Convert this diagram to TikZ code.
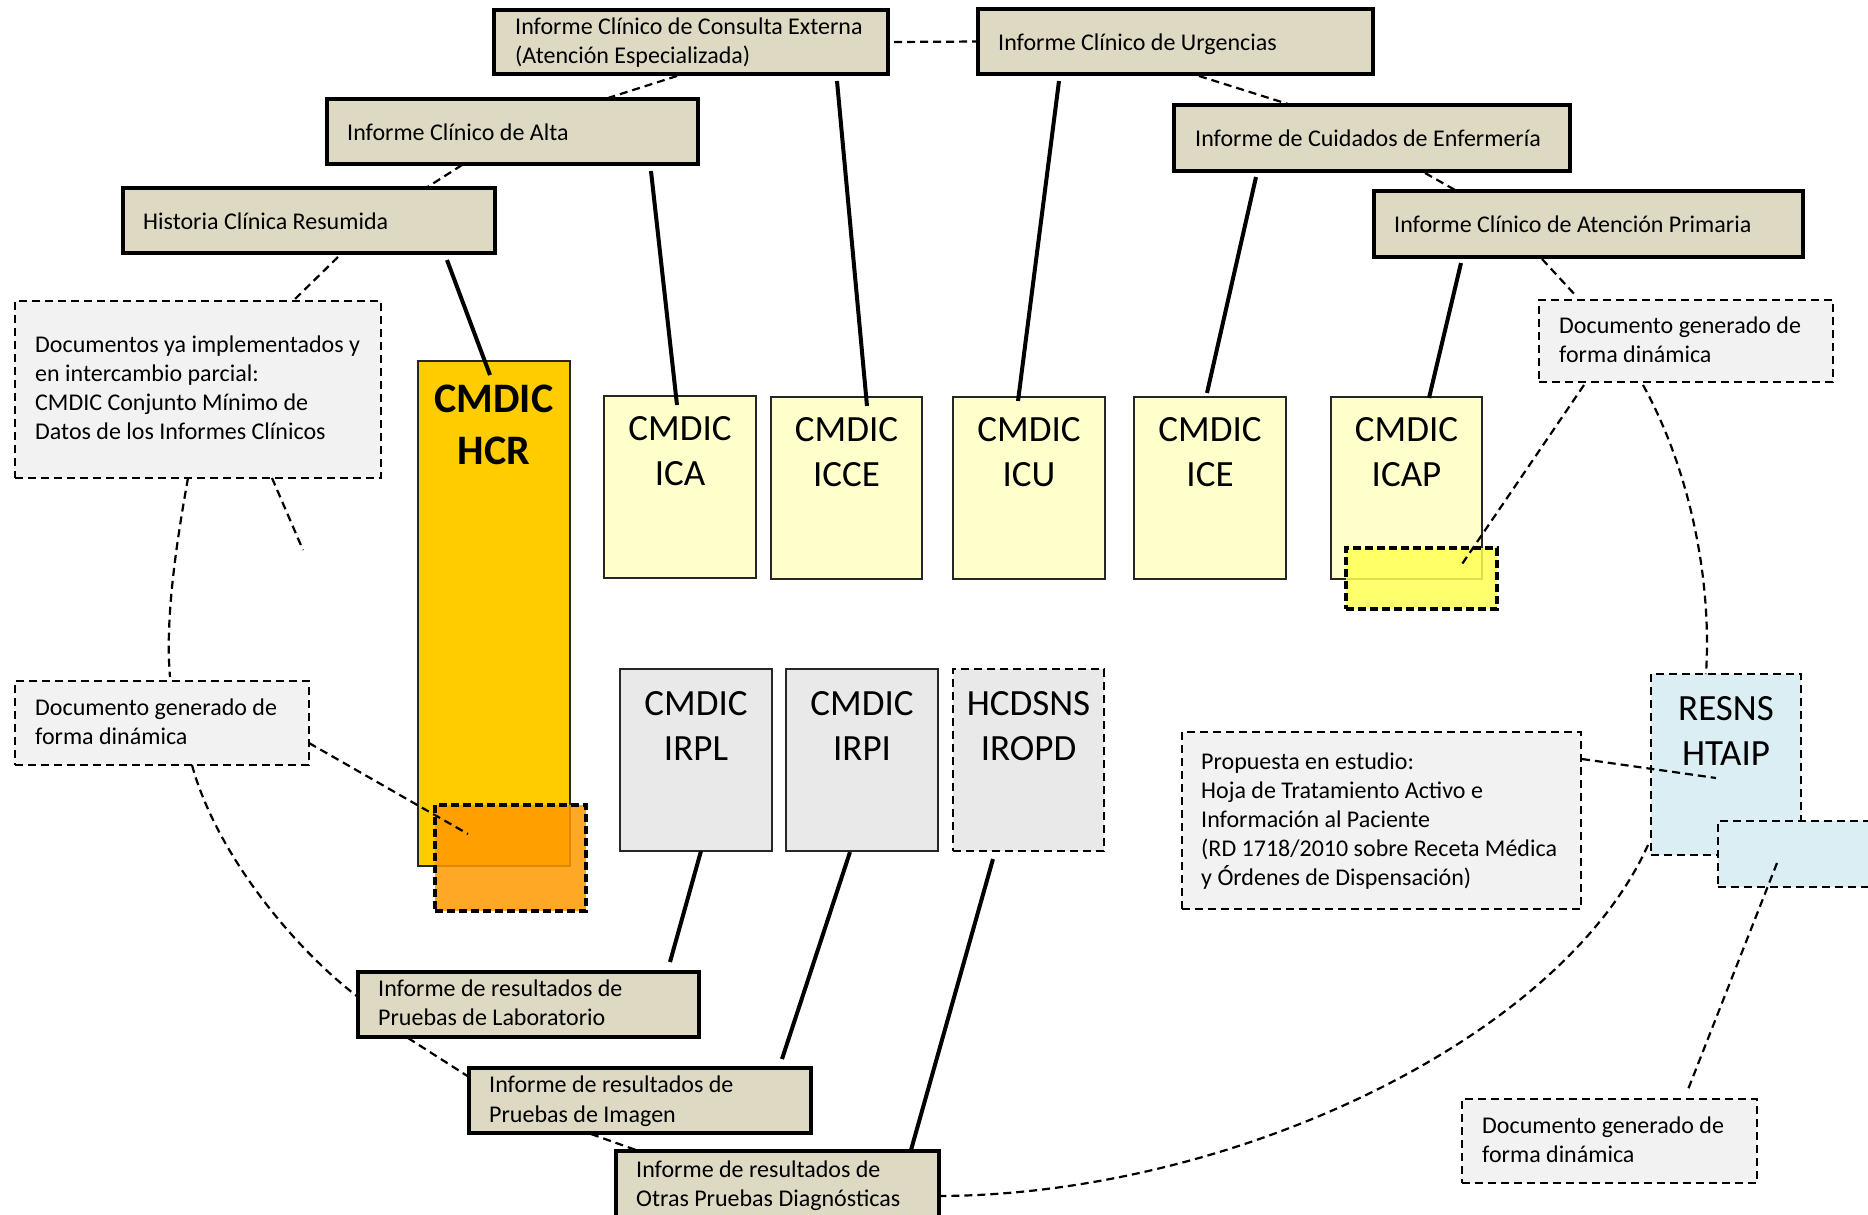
\documentclass[tikz,border=0pt]{standalone}
\usepackage{fontspec}
\setmainfont{Carlito}
\definecolor{tanc}{HTML}{DDD9C3}
\definecolor{hcrc}{HTML}{FFCC00}
\definecolor{lyc}{HTML}{FFFFCC}
\definecolor{grayc}{HTML}{E9E9E9}
\definecolor{infoc}{HTML}{F2F2F2}
\definecolor{bluec}{HTML}{DBEEF3}
\definecolor{orangec}{HTML}{FF9900}
\definecolor{yelc}{HTML}{FFFF55}
\newcommand\mkbox[6]{\node[#2, minimum width={(#5-#3)*1bp}, minimum height={(#6-#4)*1bp}] (#1) at ({(#3+#5)/2},{(#4+#6)/2}) {};}
\tikzset{
  boxbase/.style={rectangle, inner sep=0pt, outer sep=0pt},
  tanbox/.style={boxbase, draw=black, line width=4bp, fill=tanc},
  infobox/.style={boxbase, draw=black, line width=2.2bp, dash pattern=on 8bp off 5bp, fill=infoc},
  cmbox/.style={boxbase, draw=black!85, line width=2.4bp, fill=lyc},
  hcrbox/.style={boxbase, draw=black!85, line width=2.4bp, fill=hcrc},
  graybox/.style={boxbase, draw=black!85, line width=2.4bp, fill=grayc},
  graydash/.style={boxbase, draw=black, line width=2.2bp, dash pattern=on 8bp off 5bp, fill=grayc},
  bluebox/.style={boxbase, draw=black, line width=2.2bp, dash pattern=on 8bp off 5bp, fill=bluec},
  orbox/.style={boxbase, draw=black, line width=3.2bp, dash pattern=on 8bp off 4bp, fill=orangec, fill opacity=0.85},
  yelbox/.style={boxbase, draw=black, line width=3.2bp, dash pattern=on 8bp off 4bp, fill=yelc, fill opacity=0.85},
  stxt/.style={inner sep=0pt, align=left, font=\fontsize{24bp}{29bp}\selectfont,
    execute at begin node=\strut, execute at end node=\strut, yshift=-3bp},
  bigtxt/.style={inner sep=0pt, align=center, font=\fontsize{37bp}{45bp}\selectfont},
  boldtxt/.style={inner sep=0pt, align=center, font=\fontsize{42bp}{52bp}\selectfont\bfseries},
  solidlink/.style={line width=4bp, black},
  dashlink/.style={line width=2.2bp, black, dash pattern=on 8bp off 5bp},
}
\begin{document}
\begin{tikzpicture}[x=1bp,y=-1bp]
\useasboundingbox (0,0) rectangle (1868,1214);
% tan boxes
\mkbox{ce}{tanbox}{494}{10}{888}{74}
\mkbox{urg}{tanbox}{978}{9}{1373}{74}
\mkbox{alta}{tanbox}{327}{99}{698}{164}
\mkbox{enf}{tanbox}{1174}{105}{1570}{171}
\mkbox{hcrT}{tanbox}{123}{188}{495}{253}
\mkbox{ap}{tanbox}{1374}{191}{1803}{257}
\mkbox{lab}{tanbox}{358}{972}{699}{1037}
\mkbox{img}{tanbox}{469}{1068}{811}{1133}
\mkbox{otras}{tanbox}{616}{1151}{939}{1218}
% info boxes
\mkbox{docs}{infobox}{15}{301}{381}{478}
\mkbox{dynR}{infobox}{1539}{300}{1833}{382}
\mkbox{dynL}{infobox}{15}{681}{309}{765}
\mkbox{prop}{infobox}{1182}{732}{1581}{909}
\mkbox{dynB}{infobox}{1462}{1099}{1757}{1183}
% CMDIC boxes
\mkbox{hcr}{hcrbox}{418}{361}{570}{866}
\mkbox{ica}{cmbox}{604}{396}{756}{578}
\mkbox{icce}{cmbox}{771}{397}{922}{579}
\mkbox{icu}{cmbox}{953}{397}{1105}{579}
\mkbox{ice}{cmbox}{1134}{397}{1286}{579}
\mkbox{icap}{cmbox}{1331}{397}{1482}{579}
\mkbox{irpl}{graybox}{620}{669}{772}{851}
\mkbox{irpi}{graybox}{786}{669}{938}{851}
\mkbox{iropd}{graydash}{953}{669}{1104}{851}
\mkbox{resns}{bluebox}{1651}{674}{1801}{855}
\mkbox{orng}{orbox}{435}{805}{586}{911}
\mkbox{yel}{yelbox}{1346}{548}{1497}{609}
\mkbox{blue2}{bluebox}{1718}{821}{1885}{887}
% texts of tan boxes
\node[stxt, anchor=west] (ceL) at ([xshift=21bp]ce.west) {Informe Clínico de Consulta Externa\\(Atención Especializada)};
\node[stxt, anchor=west] (urgL) at ([xshift=20bp]urg.west) {Informe Clínico de Urgencias};
\node[stxt, anchor=west] (altaL) at ([xshift=20bp]alta.west) {Informe Clínico de Alta};
\node[stxt, anchor=west] (enfL) at ([xshift=21bp]enf.west) {Informe de Cuidados de Enfermería};
\node[stxt, anchor=west] (hcrTL) at ([xshift=20bp]hcrT.west) {Historia Clínica Resumida};
\node[stxt, anchor=west] (apL) at ([xshift=20bp]ap.west) {Informe Clínico de Atención Primaria};
\node[stxt, anchor=west] (labL) at ([xshift=20bp]lab.west) {Informe de resultados de\\Pruebas de Laboratorio};
\node[stxt, anchor=west] (imgL) at ([xshift=20bp]img.west) {Informe de resultados de\\Pruebas de Imagen};
\node[stxt, anchor=west] (otrasL) at ([xshift=20bp]otras.west) {Informe de resultados de\\Otras Pruebas Diagnósticas};
% texts of info boxes
\node[stxt, anchor=west] (docsL) at ([xshift=20bp]docs.west) {Documentos ya implementados y\\en intercambio parcial:\\CMDIC Conjunto Mínimo de\\Datos de los Informes Clínicos};
\node[stxt, anchor=west] (dynRL) at ([xshift=20bp]dynR.west) {Documento generado de\\forma dinámica};
\node[stxt, anchor=west] (dynLL) at ([xshift=20bp]dynL.west) {Documento generado de\\forma dinámica};
\node[stxt, anchor=west] (propL) at ([xshift=19bp]prop.west) {Propuesta en estudio:\\Hoja de Tratamiento Activo e\\Información al Paciente\\(RD 1718/2010 sobre Receta Médica\\y Órdenes de Dispensación)};
\node[stxt, anchor=west] (dynBL) at ([xshift=20bp]dynB.west) {Documento generado de\\forma dinámica};
% texts of CMDIC boxes
\node[boldtxt, anchor=north] (hcrL) at ([yshift=-24bp]hcr.north) {CMDIC\\HCR};
\node[bigtxt, anchor=north] (icaL) at ([yshift=-20bp]ica.north) {CMDIC\\ICA};
\node[bigtxt, anchor=north] (icceL) at ([yshift=-20bp]icce.north) {CMDIC\\ICCE};
\node[bigtxt, anchor=north] (icuL) at ([yshift=-20bp]icu.north) {CMDIC\\ICU};
\node[bigtxt, anchor=north] (iceL) at ([yshift=-20bp]ice.north) {CMDIC\\ICE};
\node[bigtxt, anchor=north] (icapL) at ([yshift=-20bp]icap.north) {CMDIC\\ICAP};
\node[bigtxt, anchor=north] (irplL) at ([yshift=-22bp]irpl.north) {CMDIC\\IRPL};
\node[bigtxt, anchor=north] (irpiL) at ([yshift=-22bp]irpi.north) {CMDIC\\IRPI};
\node[bigtxt, anchor=north] (iropdL) at ([yshift=-22bp]iropd.north) {HCDSNS\\IROPD};
\node[bigtxt, anchor=north] (resnsL) at ([yshift=-22bp]resns.north) {RESNS\\HTAIP};
% solid connectors
\draw[solidlink] ([shift={(324,72)}]hcrT.north west) -- ([shift={(72,14)}]hcr.north west);
\draw[solidlink] ([shift={(324,72)}]alta.north west) -- ([shift={(73,9)}]ica.north west);
\draw[solidlink] ([shift={(343,71)}]ce.north west) -- ([shift={(96,9)}]icce.north west);
\draw[solidlink] ([shift={(81,72)}]urg.north west) -- ([shift={(65,4)}]icu.north west);
\draw[solidlink] ([shift={(82,72)}]enf.north west) -- ([shift={(73,-4)}]ice.north west);
\draw[solidlink] ([shift={(87,72)}]ap.north west) -- ([shift={(98,1)}]icap.north west);
\draw[solidlink] ([shift={(81,182)}]irpl.north west) -- ([shift={(312,-10)}]lab.north west);
\draw[solidlink] ([shift={(64,183)}]irpi.north west) -- ([shift={(313,-9)}]img.north west);
\draw[solidlink] ([shift={(40,190)}]iropd.north west) -- ([shift={(295,-1)}]otras.north west);
% dashed connectors
\draw[dashlink] ([xshift=6bp]ce.east) -- (urg.west);
\draw[dashlink] ([shift={(183,66)}]ce.north west) -- ([shift={(281,-1)}]alta.north west);
\draw[dashlink] ([shift={(135,66)}]alta.north west) -- ([shift={(303,0)}]hcrT.north west);
\draw[dashlink] ([shift={(215,69)}]hcrT.north west) -- ([shift={(279,-1)}]docs.north west);
\draw[dashlink] ([shift={(221,67)}]urg.north west) -- ([shift={(114,-1)}]enf.north west);
\draw[dashlink] ([shift={(251,68)}]enf.north west) -- ([shift={(81,-1)}]ap.north west);
\draw[dashlink] ([shift={(168,68)}]ap.north west) -- ([shift={(38,-3)}]dynR.north west);
\draw[dashlink] ([shift={(45,85)}]dynR.north west) -- ([shift={(114,19)}]yel.north west);
\draw[dashlink] ([shift={(104,85)}]dynR.north west) .. controls +(47,85) and +(6,-94) .. ([shift={(55,0)}]resns.north west);
\draw[dashlink] ([shift={(173,177)}]docs.north west) .. controls +(-12,67) and +(-5,-57) .. ([shift={(155,-4)}]dynL.north west);
\coordinate (docsEnd) at ([shift={(288,249)}]docs.north west);
\draw[dashlink] ([shift={(257,177)}]docs.north west) -- (docsEnd);
\draw[dashlink] ([shift={(294,62)}]dynL.north west) -- ([shift={(33,29)}]orng.north west);
\draw[dashlink] ([shift={(177,84)}]dynL.north west) .. controls +(23,85) and +(-68,-52) .. ([shift={(0,25)}]lab.north west);
\draw[dashlink] ([shift={(50,66)}]lab.north west) -- ([shift={(0,9)}]img.north west);
\draw[dashlink] ([shift={(122,66)}]img.north west) -- ([shift={(20,-1)}]otras.north west);
\draw[dashlink] ([shift={(400,27)}]prop.north west) -- ([shift={(65,104)}]resns.north west);
\draw[dashlink] ([shift={(-3,171)}]resns.north west) .. controls +(-88,195) and +(291,-1) .. ([shift={(323,45)}]otras.north west);
\draw[dashlink] ([shift={(59,42)}]blue2.north west) -- ([shift={(225,-7)}]dynB.north west);
\end{tikzpicture}
\end{document}
